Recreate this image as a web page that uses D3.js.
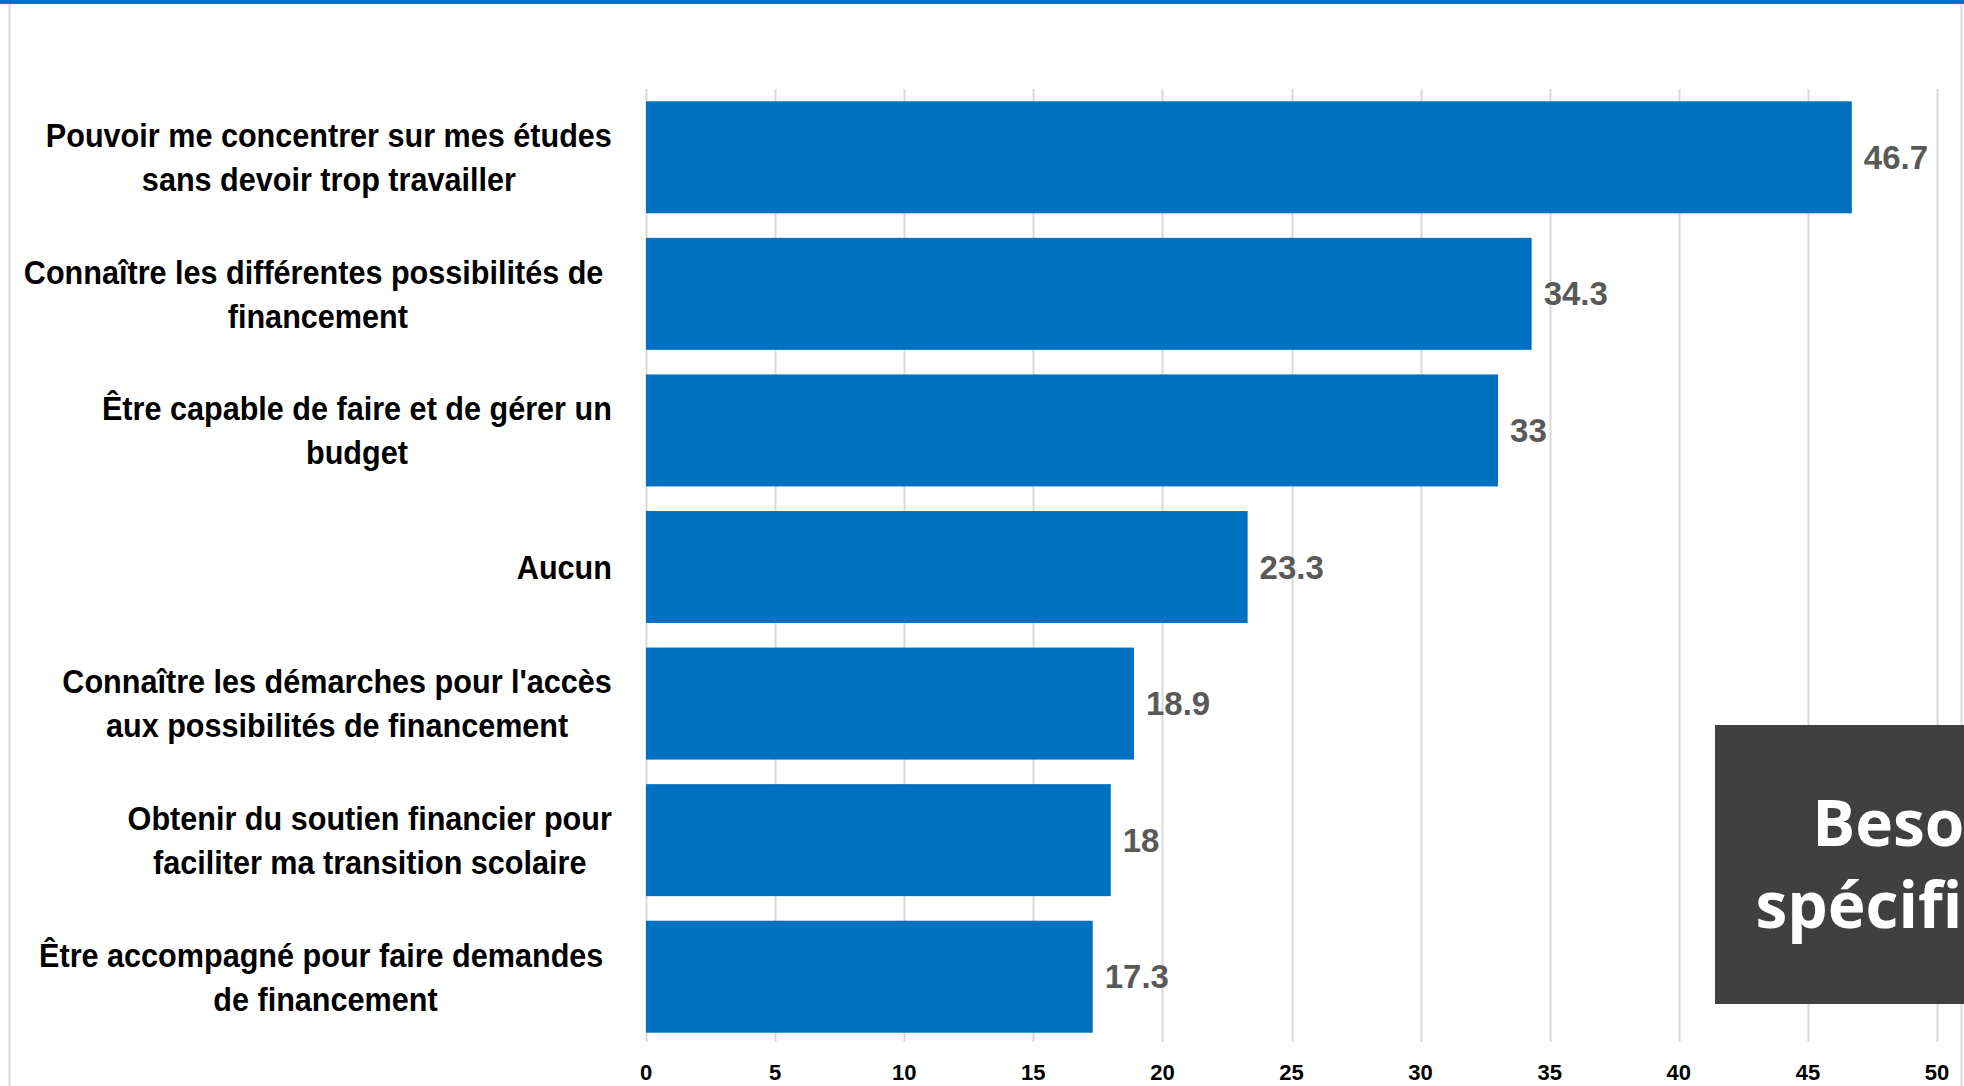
<!DOCTYPE html>
<html>
<head>
<meta charset="utf-8">
<script src="https://cdn.jsdelivr.net/npm/d3@7"></script>
<style>
  body { margin: 0; background: #fff; }
  svg { display: block; }
</style>
</head>
<body>
<svg id="chart" width="1964" height="1086"></svg>
<script>

// Catégories (de haut en bas), une ligne par "\n"
var categories = [
    "Pouvoir me concentrer sur mes études\nsans devoir trop travailler",
    "Connaître les différentes possibilités de \nfinancement",
    "Être capable de faire et de gérer un\nbudget",
    "Aucun",
    "Connaître les démarches pour l'accès\naux possibilités de financement",
    "Obtenir du soutien financier pour\nfaciliter ma transition scolaire",
    "Être accompagné pour faire demandes \nde financement"
];

var values = [46.7, 34.3, 33, 23.3, 18.9, 18, 17.3];

var ticks = [0, 5, 10, 15, 20, 25, 30, 35, 40, 45, 50];

var box_lines = ["Besoins", "spécifiques"];


var width = 1964, height = 1086;
var svg_1 = d3.select("#chart");

// échelles
var x = d3.scaleLinear()
          .domain([0, 50])
          .range([646, 1937]);

var y = d3.scaleBand()
          .domain(d3.range(categories.length))
          .range([89, 1045])
          .paddingInner(0.18)
          .paddingOuter(0.09);

// cadre du graphique
svg_1.append("line")
     .attr("x1", 9.5).attr("x2", 9.5)
     .attr("y1", 4).attr("y2", height)
     .style("stroke", "#d9d9d9").style("stroke-width", 2);
svg_1.append("line")
     .attr("x1", 1961.5).attr("x2", 1961.5)
     .attr("y1", 4).attr("y2", height)
     .style("stroke", "#d9d9d9").style("stroke-width", 2);
svg_1.append("rect")
     .attr("x", 0).attr("y", 0)
     .attr("width", width).attr("height", 4)
     .style("fill", "#0070C0");

// grille verticale
svg_1.append("g")
     .selectAll("line")
     .data(ticks)
     .enter()
     .append("line")
     .attr("x1", function(d){ return Math.round(x(d)) + 0.5; })
     .attr("x2", function(d){ return Math.round(x(d)) + 0.5; })
     .attr("y1", 89)
     .attr("y2", 1042)
     .style("stroke", "#d9d9d9")
     .style("stroke-width", 2);

// étiquettes de l'axe x
svg_1.append("g")
     .selectAll("text")
     .data(ticks)
     .enter()
     .append("text")
     .attr("x", function(d){ return x(d); })
     .attr("y", 1080)
     .attr("text-anchor", "middle")
     .style("font-family", "'Liberation Sans', Arial, sans-serif")
     .style("font-weight", "bold")
     .style("font-size", "22px")
     .style("fill", "#000")
     .text(function(d){ return d; });

// barres
svg_1.append("g")
     .selectAll("rect")
     .data(values)
     .enter()
     .append("rect")
     .attr("x", x(0))
     .attr("y", function(d,i){ return y(i); })
     .attr("width", function(d){ return x(d) - x(0); })
     .attr("height", y.bandwidth())
     .style("fill", "#0070C0");

// valeurs au bout des barres
svg_1.append("g")
     .selectAll("text")
     .data(values)
     .enter()
     .append("text")
     .attr("x", function(d){ return x(d) + 12; })
     .attr("y", function(d,i){ return y(i) + y.bandwidth()/2; })
     .attr("dy", "0.35em")
     .style("font-family", "'Liberation Sans', Arial, sans-serif")
     .style("font-weight", "bold")
     .style("font-size", "33px")
     .style("fill", "#595959")
     .text(function(d){ return d; });

// étiquettes des catégories : bloc centré, aligné à droite sur x = 612
// pas de police étroite installée -> on comprime horizontalement
var label_right = 612;
var line_height = 44;
var squeeze = 0.9;
var cat_g = svg_1.append("g");

categories.forEach(function(cat, i){
    var lines = cat.split("\n");
    var t = cat_g.append("text")
                 .attr("text-anchor", "middle")
                 .style("font-family", "'Liberation Sans', Arial, sans-serif")
                 .style("font-weight", "bold")
                 .style("font-size", "34px")
                 .style("white-space", "pre")
                 .style("fill", "#000");
    var cy = y(i) + y.bandwidth()/2;
    lines.forEach(function(line, k){
        t.append("tspan")
         .attr("x", 0)
         .attr("y", cy + (k - (lines.length - 1)/2) * line_height)
         .attr("dy", "0.35em")
         .text(line);
    });
    // largeur du bloc pour le centrer
    var w = d3.max(t.selectAll("tspan").nodes(), function(n){ return n.getComputedTextLength(); }) * squeeze;
    t.attr("transform", "translate(" + (label_right - w/2) + ",0) scale(" + squeeze + ",1)");
});

// encadré sombre (titre coupé à droite)
svg_1.append("rect")
     .attr("x", 1715)
     .attr("y", 725)
     .attr("width", 260)
     .attr("height", 279)
     .style("fill", "#404040");

svg_1.append("g")
     .selectAll("text")
     .data(box_lines)
     .enter()
     .append("text")
     .attr("x", 1935)
     .attr("y", function(d,i){ return 846 + i*82; })
     .attr("text-anchor", "middle")
     .style("font-family", "'Open Sans', Lato, sans-serif")
     .style("font-weight", "700")
     .style("font-size", "64px")
     .style("fill", "#fff")
     .text(function(d){ return d; });

</script>
</body>
</html>
